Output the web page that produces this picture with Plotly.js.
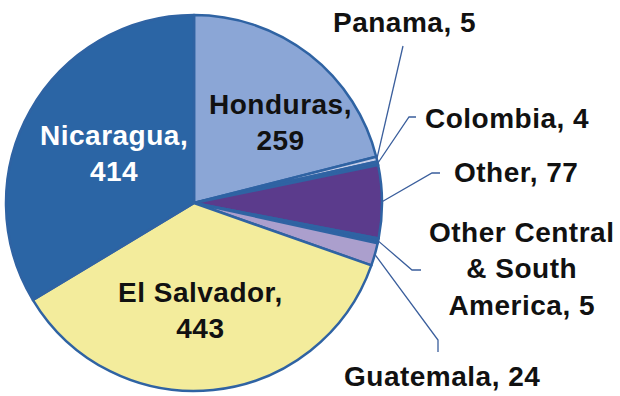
<!DOCTYPE html>
<html><head><meta charset="utf-8">
<script src="https://cdn.plot.ly/plotly-3.0.1.min.js"></script>
<style>html,body{margin:0;padding:0;background:#fff}#c{width:620px;height:396px}.annotation-text{letter-spacing:0.5px}</style>
</head><body><div id="c"></div>
<script>
const labels = ["Honduras", "Panama", "Colombia", "Other", "Other Central<br>& South<br>America", "Guatemala", "El Salvador", "Nicaragua"];
const values = [259, 5, 4, 77, 5, 24, 443, 414];
const colors = ["#8ba6d6", "#c6cee8", "#3364a4", "#5b3b8c", "#2f63a3", "#ab9fcd", "#f3ec9c", "#2b65a5"];

const W = 620, H = 396;
const CX = 194, CY = 203, R = 188;
const total = values.reduce((a, b) => a + b, 0);
const px = x => x / W, py = y => 1 - y / H;

// label placement (layout): text centre, leader polyline start points
const place = [
  {x: 280, y: 122, color: "#111", wrap: true},
  {x: 404, y: 22, lead: [[403, 46]]},
  {x: 507, y: 118, lead: [[416, 117], [409, 117]]},
  {x: 516, y: 172, lead: [[440, 173], [432, 173]]},
  {x: 521, y: 269, lead: [[421, 270], [412, 270]]},
  {x: 442, y: 376, lead: [[438, 352], [438, 340]]},
  {x: 200, y: 310, color: "#111", wrap: true},
  {x: 114, y: 154, color: "#fff", wrap: true}
];

const annotations = [], shapes = [];
let cum = 0;
values.forEach((v, i) => {
  const mid = (cum + v / 2) / total * 2 * Math.PI;
  cum += v;
  const p = place[i];
  annotations.push({
    xref: "paper", yref: "paper", x: px(p.x), y: py(p.y),
    xanchor: "center", yanchor: "middle", showarrow: false,
    text: "<b>" + labels[i] + "," + (p.wrap ? "<br>" : " ") + values[i] + "</b>",
    font: {family: "Liberation Sans, Arial, sans-serif", size: 28, color: p.color || "#111"}
  });
  if (p.lead) {
    const ex = CX + R * Math.sin(mid), ey = CY - R * Math.cos(mid);
    let d = "M" + px(p.lead[0][0]) + "," + py(p.lead[0][1]);
    for (let k = 1; k < p.lead.length; k++) d += " L" + px(p.lead[k][0]) + "," + py(p.lead[k][1]);
    d += " L" + px(ex) + "," + py(ey);
    shapes.push({type: "path", xref: "paper", yref: "paper", path: d, line: {color: "#3a5e9c", width: 1.3}});
  }
});

const trace = {
  type: "pie", labels: labels, values: values, sort: false, direction: "clockwise", rotation: 0,
  marker: {colors: colors, line: {color: "#2f63a3", width: 2.5}},
  textinfo: "none", hoverinfo: "none", showlegend: false,
  domain: {x: [(CX - R) / W, (CX + R) / W], y: [1 - (CY + R) / H, 1 - (CY - R) / H]}
};

Plotly.newPlot("c", [trace], {
  width: W, height: H, margin: {l: 0, r: 0, t: 0, b: 0},
  paper_bgcolor: "#fff", showlegend: false,
  annotations: annotations, shapes: shapes
}, {staticPlot: true});
</script></body></html>
